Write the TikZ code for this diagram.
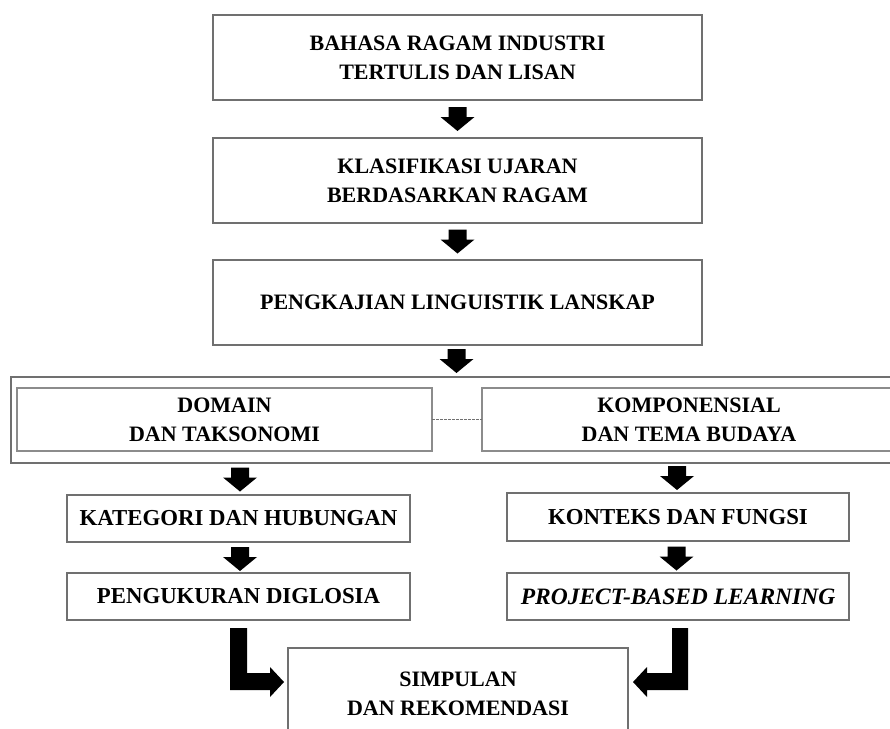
\documentclass[tikz,border=0pt]{standalone}
\usepackage{fontspec}
\setmainfont{Liberation Serif}
\usetikzlibrary{calc}
\definecolor{boxgray}{RGB}{112,112,112}
\definecolor{lightgray2}{RGB}{140,140,140}
\tikzset{
  stepbox/.style={draw=boxgray, line width=1.3pt, fill=white, align=center,
    font=\bfseries\fontsize{22}{29}\selectfont, inner sep=0pt, outer sep=0pt},
  smallbox/.style={stepbox, font=\bfseries\fontsize{22.8}{29}\selectfont},
  innerbox/.style={stepbox, draw=lightgray2},
  blockfill/.style={fill=black},
  downarr/.pic={\fill[blockfill] (-9,-12) -- (9,-12) -- (9,-2) -- (17,-2) -- (0,12) -- (-17,-2) -- (-9,-2) -- cycle;}
}
\begin{document}
\begin{tikzpicture}[x=1pt, y=-1pt]
\useasboundingbox (0,0) rectangle (890,728);
\clip (0,0) rectangle (890,728);
\fill[white] (0,0) rectangle (890,728);

% top column
\node[stepbox, minimum width=489, minimum height=85] (b1) at (457.5,57.5) {BAHASA RAGAM INDUSTRI\\TERTULIS DAN LISAN};
\node[stepbox, minimum width=489, minimum height=85] (b2) at (457.5,180.5) {KLASIFIKASI UJARAN\\BERDASARKAN RAGAM};
\node[stepbox, minimum width=489, minimum height=85] (b3) at (457.5,302.5) {PENGKAJIAN LINGUISTIK LANSKAP};

% wide frame with two inner boxes
\node[stepbox, minimum width=889, minimum height=86] (outer) at (455.5,420) {};
\node[innerbox, minimum width=415, minimum height=63] (dom) at (224.5,419.5) {DOMAIN\\DAN TAKSONOMI};
\node[innerbox, minimum width=414, minimum height=63] (komp) at (689,419.5) {KOMPONENSIAL\\DAN TEMA BUDAYA};
\draw[boxgray, line width=1pt, dash pattern=on 2.5pt off 1.5pt] (dom.east) -- (komp.west);

% lower columns
\node[smallbox, minimum width=343, minimum height=47] (kat) at (238.5,518.5) {KATEGORI DAN HUBUNGAN};
\node[smallbox, minimum width=343, minimum height=47] (peng) at (238.5,596.5) {PENGUKURAN DIGLOSIA};
\node[smallbox, minimum width=342, minimum height=48] (kont) at (678,517) {KONTEKS DAN FUNGSI};
\node[smallbox, minimum width=342, minimum height=47, font=\bfseries\itshape\fontsize{23.5}{29}\selectfont] (pbl) at (678,596.5) {PROJECT-BASED LEARNING};

% final box (cut by the lower edge)
\node[stepbox, minimum width=340, minimum height=92] (simp) at (458,694) {SIMPULAN\\DAN REKOMENDASI};

% straight block arrows
\pic at ($(b1.south)!0.5!(b2.north)$) {downarr};
\pic at ($(b2.south)!0.5!(b3.north)$) {downarr};
\pic at ($(b3.south)!0.5!(outer.north)$) {downarr};
\pic at ($(kat.north)!0.5!(kat.north |- outer.south)+(1.5,0.5)$) {downarr};
\pic at ($(kont.north)!0.5!(kont.north |- outer.south)+(-1,0)$) {downarr};
\pic at ($(kat.south)!0.5!(peng.north)+(1.5,1.5)$) {downarr};
\pic at ($(kont.south)!0.5!(pbl.north)+(-1.5,1.5)$) {downarr};

% bent block arrows into the final box
\fill[blockfill] (230,628) -- (247,628) -- (247,673) -- (270,673) -- (270,667) -- (284,682) -- (270,697) -- (270,690) -- (230,690) -- cycle;
\fill[blockfill] (672,628) -- (688,628) -- (688,690) -- (647,690) -- (647,697) -- (633,682) -- (647,667) -- (647,673) -- (672,673) -- cycle;
\end{tikzpicture}
\end{document}
